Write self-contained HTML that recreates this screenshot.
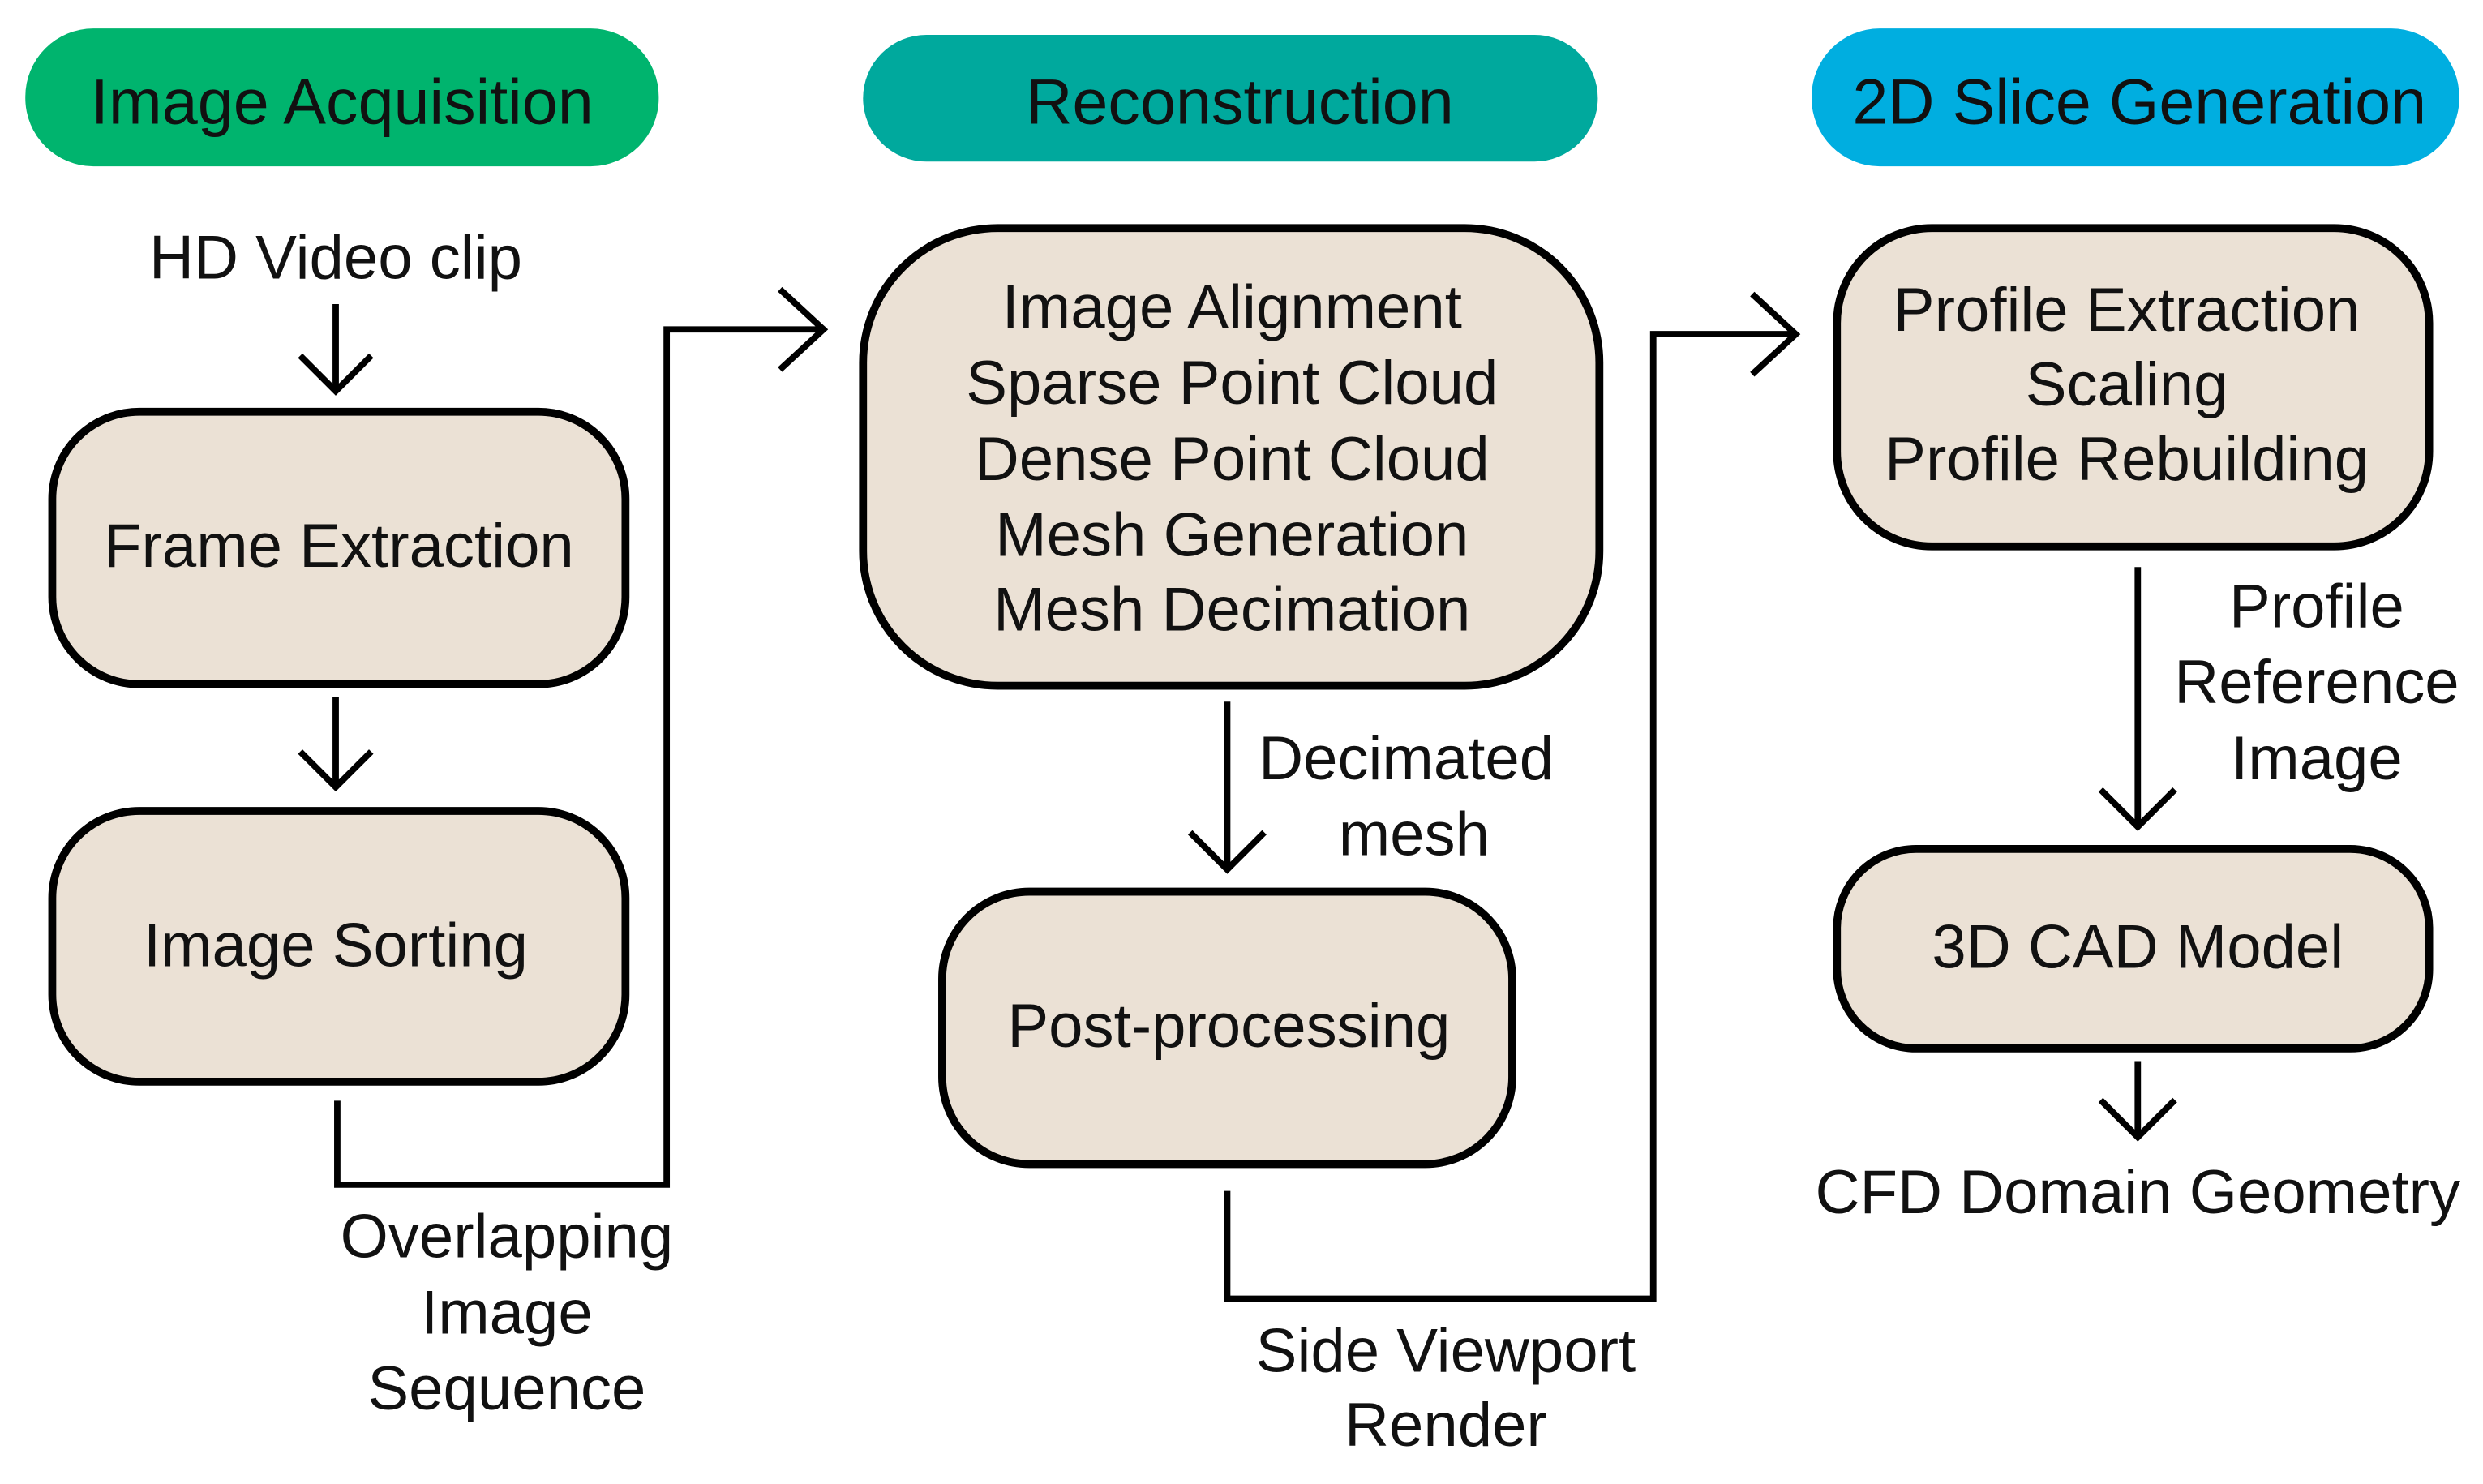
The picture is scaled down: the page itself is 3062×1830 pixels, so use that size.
<!DOCTYPE html>
<html><head><meta charset="utf-8"><style>
html,body{margin:0;padding:0;background:#fff;}
svg{display:block;}
text{font-family:"Liberation Sans",sans-serif;font-size:39px;fill:#111;text-anchor:middle;}
.h{font-size:40.5px;}
.b{fill:#ebe1d5;stroke:#000;stroke-width:5;}
.l{fill:none;stroke:#000;stroke-width:4;stroke-linecap:square;}
</style></head><body>
<svg width="3062" height="1830" viewBox="0 0 1568 937" preserveAspectRatio="none" xmlns="http://www.w3.org/2000/svg">
<rect x="0" y="0" width="1568" height="937" fill="#fff"/>
<rect x="16" y="18" width="400" height="87" rx="43" fill="#00b46e"/>
<text class="h" x="216" y="78">Image Acquisition</text>
<rect x="545" y="22" width="464" height="80" rx="40" fill="#00a99d"/>
<text class="h" x="783" y="78">Reconstruction</text>
<rect x="1144" y="18" width="409" height="87" rx="43" fill="#00aee0"/>
<text class="h" x="1351" y="78">2D Slice Generation</text>

<text x="212" y="176">HD Video clip</text>
<path class="l" d="M212 194 V245 M191 226 L212 247 L233 226"/>
<rect class="b" x="33" y="260" width="362" height="172" rx="55"/>
<text x="214" y="358">Frame Extraction</text>
<path class="l" d="M212 442 V495 M191 476 L212 497 L233 476"/>
<rect class="b" x="33" y="512" width="362" height="171" rx="55"/>
<text x="212" y="610">Image Sorting</text>
<path class="l" d="M213 697 V748 H421 V208 H518 M494 184 L520 208 L494 232"/>
<text x="320" y="794">Overlapping</text>
<text x="320" y="842">Image</text>
<text x="320" y="890">Sequence</text>

<rect class="b" x="545" y="144" width="465" height="289" rx="85"/>
<text x="778" y="207">Image Alignment</text>
<text x="778" y="255">Sparse Point Cloud</text>
<text x="778" y="303">Dense Point Cloud</text>
<text x="778" y="351">Mesh Generation</text>
<text x="778" y="398">Mesh Decimation</text>
<path class="l" d="M775 445 V548 M753 527 L775 549 L797 527"/>
<text x="888" y="492">Decimated</text>
<text x="893" y="540">mesh</text>
<rect class="b" x="595" y="563" width="360" height="172" rx="55"/>
<text x="776" y="661">Post-processing</text>
<path class="l" d="M775 754 V820 H1044 V211 H1132 M1108 187 L1134 211 L1108 235"/>
<text x="913" y="866">Side Viewport</text>
<text x="913" y="913">Render</text>

<rect class="b" x="1160" y="144" width="374" height="201" rx="60"/>
<text x="1343" y="209">Profile Extraction</text>
<text x="1343" y="256">Scaling</text>
<text x="1343" y="303">Profile Rebuilding</text>
<path class="l" d="M1350 360 V520 M1328 500 L1350 522 L1372 500"/>
<text x="1463" y="396">Profile</text>
<text x="1463" y="444">Reference</text>
<text x="1463" y="492">Image</text>
<rect class="b" x="1160" y="536" width="374" height="126" rx="50"/>
<text x="1350" y="611">3D CAD Model</text>
<path class="l" d="M1350 672 V716 M1328 696 L1350 718 L1372 696"/>
<text x="1350" y="766">CFD Domain Geometry</text>
</svg>
</body></html>
